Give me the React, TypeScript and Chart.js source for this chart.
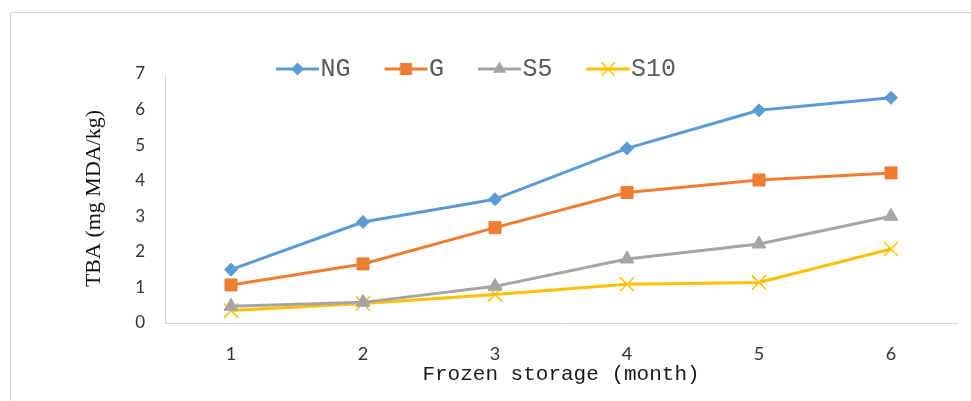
import React, { useEffect, useRef } from 'react';
import { Chart, registerables } from 'chart.js';

Chart.register(...registerables);

// ---- data ----
const categories = ['1', '2', '3', '4', '5', '6'];
const seriesNames = ['NG', 'G', 'S5', 'S10'];
const ngValues = [1.5, 2.84, 3.48, 4.91, 5.98, 6.33];
const gValues = [1.07, 1.66, 2.68, 3.67, 4.02, 4.22];
const s5Values = [0.47, 0.58, 1.03, 1.8, 2.22, 3.0];
const s10Values = [0.35, 0.55, 0.8, 1.09, 1.14, 2.08];
const yTickValues = [0, 1, 2, 3, 4, 5, 6, 7];
const yTitle = 'TBA (mg MDA/kg)';
const xTitle = 'Frozen storage (month)';

// ---- styles ----
const COLORS = ['#5B9BD5', '#ED7D31', '#A5A5A5', '#FFC000'];
const POINT_STYLES = ['rectRot', 'rect', 'triangle', 'crossRot'];
const POINT_RADII = [6.5, 8.5, 8, 10];
const LEGEND_FONT = 25;
const LEGEND_BOX_W = 56;
const LEGEND_IMG_W = 80;
const LEGEND_IMG_H = 24;
const LEGEND_LEAD = 24;
const LEGEND_LINE = 43;
const LEGEND_HEIGHT = 27.5;

function makeLegendImage(color: string, style: string): HTMLCanvasElement {
  const c = document.createElement('canvas');
  c.width = LEGEND_IMG_W;
  c.height = LEGEND_IMG_H;
  const ctx = c.getContext('2d') as CanvasRenderingContext2D;
  const cy = LEGEND_IMG_H / 2;
  const a = LEGEND_LEAD - LEGEND_BOX_W / 2 + LEGEND_IMG_W / 2;
  ctx.strokeStyle = color;
  ctx.fillStyle = color;
  ctx.lineWidth = 3;
  ctx.beginPath();
  ctx.moveTo(a, cy);
  ctx.lineTo(a + LEGEND_LINE, cy);
  ctx.stroke();
  const cx = a + LEGEND_LINE / 2;
  ctx.lineWidth = 1;
  ctx.beginPath();
  if (style === 'rectRot') {
    const r = 6.5;
    ctx.moveTo(cx, cy - r);
    ctx.lineTo(cx + r, cy);
    ctx.lineTo(cx, cy + r);
    ctx.lineTo(cx - r, cy);
    ctx.closePath();
    ctx.fill();
  } else if (style === 'rect') {
    const s = 6;
    ctx.rect(cx - s, cy - s, 2 * s, 2 * s);
    ctx.fill();
  } else if (style === 'triangle') {
    const r = 7.5;
    ctx.moveTo(cx, cy - r);
    ctx.lineTo(cx + r * Math.sin((2 * Math.PI) / 3), cy + r * 0.5);
    ctx.lineTo(cx - r * Math.sin((2 * Math.PI) / 3), cy + r * 0.5);
    ctx.closePath();
    ctx.fill();
  } else {
    const d = 6.5;
    ctx.lineWidth = 1.5;
    ctx.moveTo(cx - d, cy - d);
    ctx.lineTo(cx + d, cy + d);
    ctx.moveTo(cx + d, cy - d);
    ctx.lineTo(cx - d, cy + d);
    ctx.stroke();
  }
  return c;
}

// lets the legend sit partly over the plot's top margin, as in the reference
const legendFitPatch = {
  id: 'legendFitPatch',
  beforeLayout(chart: any) {
    const lg = chart.legend;
    if (lg && !lg.__patched) {
      const proto = Object.getPrototypeOf(lg);
      lg.fit = function () {
        proto.fit.call(this);
        this.height = LEGEND_HEIGHT;
      };
      lg.draw = function () {
        if (this.options.display) this._draw();
      };
      lg.__patched = true;
    }
  },
};

export default function App() {
  const ref = useRef<HTMLCanvasElement | null>(null);

  useEffect(() => {
    if (!ref.current) return;
    const seriesValues = [ngValues, gValues, s5Values, s10Values];
    const legendImages = COLORS.map((c, i) => makeLegendImage(c, POINT_STYLES[i]));

    const chart = new Chart(ref.current, {
      type: 'line',
      data: {
        labels: categories,
        datasets: seriesValues.map((vals, i) => ({
          label: seriesNames[i],
          data: vals,
          borderColor: COLORS[i],
          backgroundColor: COLORS[i],
          borderWidth: 3,
          borderJoinStyle: 'round',
          pointStyle: POINT_STYLES[i],
          pointRadius: POINT_RADII[i],
          pointHoverRadius: POINT_RADII[i],
          pointBackgroundColor: COLORS[i],
          pointBorderColor: COLORS[i],
          pointBorderWidth: i === 3 ? 1.5 : 1,
          tension: 0,
          fill: false,
        })) as any,
      },
      options: {
        responsive: false,
        animation: false,
        devicePixelRatio: 1,
        layout: { padding: { left: -29, right: 14, top: 46.5, bottom: 0 } },
        plugins: {
          legend: {
            position: 'top',
            align: 'center',
            labels: {
              usePointStyle: true,
              pointStyleWidth: LEGEND_BOX_W,
              boxHeight: LEGEND_FONT,
              padding: 10,
              color: '#595959',
              font: { family: '"Liberation Mono", monospace', size: LEGEND_FONT },
              generateLabels: (ch: any) =>
                ch.data.datasets.map((ds: any, i: number) => ({
                  text: ds.label,
                  pointStyle: legendImages[i],
                  fillStyle: COLORS[i],
                  strokeStyle: COLORS[i],
                  lineWidth: 0,
                  hidden: !ch.isDatasetVisible(i),
                  datasetIndex: i,
                  fontColor: '#595959',
                })),
            },
          },
          tooltip: { enabled: false },
        },
        scales: {
          x: {
            type: 'category',
            offset: true,
            grid: { display: false, drawTicks: false },
            border: { display: true, color: '#D9D9D9', width: 1 },
            ticks: {
              font: { family: 'Lato, sans-serif', size: 18 },
              color: '#333333',
              padding: 20,
              maxRotation: 0,
              autoSkip: false,
            },
            title: {
              display: true,
              text: xTitle,
              color: '#1a1a1a',
              font: { family: '"Liberation Mono", monospace', size: 21 },
              padding: { top: 0, bottom: 14.4 },
            },
            afterFit: (s: any) => {
              s.height = 78;
            },
          },
          y: {
            min: 0,
            max: 7,
            grid: { display: false, drawTicks: false },
            border: { display: true, color: '#D9D9D9', width: 1 },
            ticks: {
              stepSize: 1,
              font: { family: 'Lato, sans-serif', size: 17 },
              color: '#333333',
              padding: 20,
            },
            afterBuildTicks: (s: any) => {
              s.ticks = yTickValues.map((v) => ({ value: v }));
            },
            title: {
              display: true,
              text: yTitle,
              color: '#111111',
              font: { family: '"Liberation Serif", serif', size: 22 },
              padding: { top: 109.8, bottom: 0 },
            },
            afterFit: (s: any) => {
              s.width = 194;
            },
          },
        },
      } as any,
      plugins: [legendFitPatch as any],
    });

    return () => chart.destroy();
  }, []);

  return (
    <div style={{ position: 'fixed', left: 0, top: 0, width: 971, height: 401, background: '#fff' }}>
      <div
        style={{
          position: 'absolute',
          left: 10,
          top: 12,
          width: 961,
          height: 389,
          boxSizing: 'border-box',
          borderLeft: '1px solid #D9D9D9',
          borderTop: '1px solid #D9D9D9',
        }}
      />
      <canvas ref={ref} width={971} height={401} style={{ position: 'absolute', left: 0, top: 0, display: 'block' }} />
    </div>
  );
}
